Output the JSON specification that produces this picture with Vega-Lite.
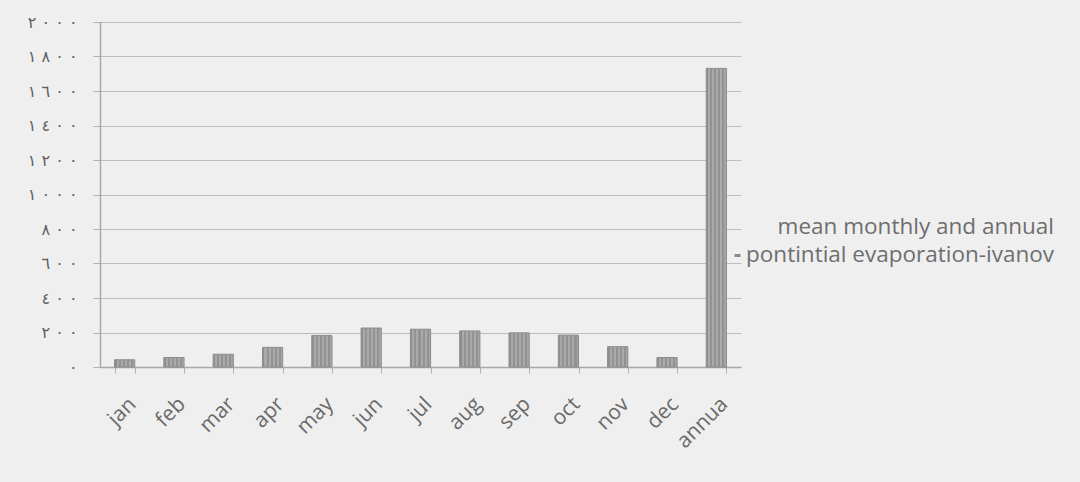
{
  "$schema": "https://vega.github.io/schema/vega-lite/v6.json",
  "width": 641,
  "height": 345,
  "autosize": {"type": "none"},
  "padding": {"left": 100, "top": 22, "right": 339, "bottom": 115},
  "background": "#efefef",
  "config": {
    "font": "Open Sans",
    "view": {"stroke": null},
    "locale": {
      "number": {
        "decimal": ".",
        "thousands": ",",
        "grouping": [3],
        "currency": ["", ""],
        "numerals": ["٠", "١", "٢", "٣", "٤", "٥", "٦", "٧", "٨", "٩"]
      }
    },
    "style": {"guide-label": {"lineHeight": 28}}
  },
  "data": {
    "values": [
      {"month": "jan", "evaporation": 42, "series": "mean monthly and annual pontintial evaporation-ivanov"},
      {"month": "feb", "evaporation": 55, "series": "mean monthly and annual pontintial evaporation-ivanov"},
      {"month": "mar", "evaporation": 74, "series": "mean monthly and annual pontintial evaporation-ivanov"},
      {"month": "apr", "evaporation": 114, "series": "mean monthly and annual pontintial evaporation-ivanov"},
      {"month": "may", "evaporation": 183, "series": "mean monthly and annual pontintial evaporation-ivanov"},
      {"month": "jun", "evaporation": 226, "series": "mean monthly and annual pontintial evaporation-ivanov"},
      {"month": "jul", "evaporation": 219, "series": "mean monthly and annual pontintial evaporation-ivanov"},
      {"month": "aug", "evaporation": 209, "series": "mean monthly and annual pontintial evaporation-ivanov"},
      {"month": "sep", "evaporation": 198, "series": "mean monthly and annual pontintial evaporation-ivanov"},
      {"month": "oct", "evaporation": 185, "series": "mean monthly and annual pontintial evaporation-ivanov"},
      {"month": "nov", "evaporation": 118, "series": "mean monthly and annual pontintial evaporation-ivanov"},
      {"month": "dec", "evaporation": 55, "series": "mean monthly and annual pontintial evaporation-ivanov"},
      {"month": "annua", "evaporation": 1731, "series": "mean monthly and annual pontintial evaporation-ivanov"}
    ]
  },
  "mark": {
    "type": "bar",
    "strokeWidth": 1,
    "fill": {
      "gradient": "linear",
      "x1": 0, "y1": 0, "x2": 1, "y2": 0,
      "stops": [
        {"offset": 0.0, "color": "#8e8e8e"}, {"offset": 0.1, "color": "#8e8e8e"},
        {"offset": 0.1, "color": "#a9a9a9"}, {"offset": 0.2, "color": "#a9a9a9"},
        {"offset": 0.2, "color": "#939393"}, {"offset": 0.3, "color": "#939393"},
        {"offset": 0.3, "color": "#ababab"}, {"offset": 0.4, "color": "#ababab"},
        {"offset": 0.4, "color": "#929292"}, {"offset": 0.5, "color": "#929292"},
        {"offset": 0.5, "color": "#aaaaaa"}, {"offset": 0.6, "color": "#aaaaaa"},
        {"offset": 0.6, "color": "#939393"}, {"offset": 0.7, "color": "#939393"},
        {"offset": 0.7, "color": "#ababab"}, {"offset": 0.8, "color": "#ababab"},
        {"offset": 0.8, "color": "#929292"}, {"offset": 0.9, "color": "#929292"},
        {"offset": 0.9, "color": "#a6a6a6"}, {"offset": 1.0, "color": "#a6a6a6"}
      ]
    }
  },
  "encoding": {
    "x": {
      "field": "month",
      "type": "nominal",
      "sort": null,
      "scale": {"paddingInner": 0.59, "paddingOuter": 0.295},
      "axis": {
        "title": null,
        "labelAngle": -45,
        "labelFont": "Open Sans",
        "labelFontSize": 21,
        "labelColor": "#6a6a6a",
        "labelPadding": 20,
        "tickBand": "extent",
        "tickSize": 6,
        "tickColor": "#b0b0b0",
        "domainColor": "#a8a8a8",
        "domainWidth": 1.5
      }
    },
    "y": {
      "field": "evaporation",
      "type": "quantitative",
      "scale": {"domain": [0, 2000], "nice": false},
      "axis": {
        "title": null,
        "values": [0, 200, 400, 600, 800, 1000, 1200, 1400, 1600, 1800, 2000],
        "format": "d",
        "labelExpr": "'\u202D' + join(split(datum.label, ''), ' ')",
        "labelFont": "DejaVu Sans",
        "labelFontSize": 16,
        "labelColor": "#606060",
        "labelPadding": 16,
        "tickSize": 7,
        "tickColor": "#b0b0b0",
        "domainColor": "#a8a8a8",
        "domainWidth": 1.5,
        "gridColor": "#bdbdbd",
        "gridWidth": 1.2
      }
    },
    "stroke": {
      "field": "series",
      "type": "nominal",
      "scale": {"range": ["#8c8c8c"]},
      "legend": {
        "title": null,
        "orient": "none",
        "legendX": 626,
        "legendY": 193,
        "symbolType": "M-0.3,2.9H0.3",
        "symbolSize": 400,
        "symbolStrokeWidth": 3,
        "labelAlign": "right",
        "labelBaseline": "middle",
        "labelOffset": 305,
        "labelLimit": 0,
        "labelFont": "Open Sans",
        "labelFontSize": 22.5,
        "labelColor": "#6e6e6e",
        "labelExpr": "[slice(datum.label, 0, 23), slice(datum.label, 24)]"
      }
    }
  }
}
